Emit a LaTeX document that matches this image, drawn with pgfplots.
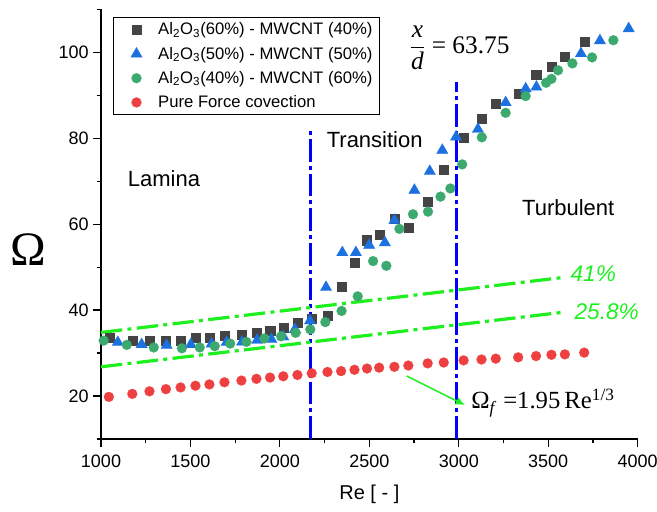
\documentclass[border=0pt]{standalone}
\usepackage{pgfplots}
\pgfplotsset{compat=1.18}
\usetikzlibrary{arrows.meta}
\usepackage{fontspec}
\setmainfont{Liberation Sans}
\newfontfamily\timesf{Liberation Serif}
\definecolor{sqgray}{RGB}{68,68,68}
\definecolor{triblue}{RGB}{28,113,225}
\definecolor{circgreen}{RGB}{60,170,110}
\definecolor{circred}{RGB}{238,64,64}
\definecolor{zoneblue}{RGB}{0,0,255}
\definecolor{lime}{RGB}{30,240,30}
\begin{document}
\begin{tikzpicture}
\useasboundingbox (0,0) rectangle (492.75pt,383.25pt);
\begin{axis}[
  scale only axis, width=402.5pt, height=322.3pt,
  at={(75.75pt,54pt)}, anchor=south west,
  xmin=1000, xmax=4000, ymin=10, ymax=110,
  axis lines=left, axis line style={-, line width=0.9pt, black},
  xtick={1000,1500,...,4000}, ytick={20,40,...,100},
  minor xtick={1250,1750,...,3750}, minor ytick={10,30,...,110},
  tick align=outside, major tick length=5.75pt, minor tick length=3.25pt,
  tick style={black, line width=0.9pt},
  ticklabel style={font=\fontsize{13.5}{15}\selectfont},
  xticklabel style={yshift=-3pt},
  /pgf/number format/assume math mode=true,
  /pgf/number format/1000 sep={},
  xlabel={Re [ - ]},
  xlabel style={at={(rel axis cs:0.5,-0.128)}, anchor=center, font=\fontsize{15}{17}\selectfont},
  ylabel={\timesf Ω},
  ylabel style={rotate=-90, at={(rel axis cs:-0.1355,0.44)}, anchor=center, font=\fontsize{36}{40}\selectfont},
  legend style={at={(rel axis cs:0.0224,0.982)}, anchor=north west, draw=black, line width=0.6pt,
    font=\fontsize{12.5}{14}\selectfont, inner xsep=3pt, inner ysep=2pt, row sep=3.6pt},
  legend cell align=left,
  legend image code/.code={\path (0pt,0pt) (28pt,0pt); \draw[#1] plot coordinates {(14pt,0pt)};},
  clip=false,
]
\addplot[sqgray, only marks, mark=square*, mark size=3.4pt, mark options={solid, fill=sqgray, draw=sqgray, line width=0.1pt}]
coordinates {(1050,33.6) (1175,33.0) (1271,32.9) (1363,33.0) (1445,33.0) (1528,33.6) (1606,33.6)
 (1690,34.0) (1785,34.4) (1869,34.7) (1945,35.2) (2019,36.0) (2098,37.0) (2178,38.0) (2266,38.8)
 (2346,45.5) (2417,51.1) (2487,56.3) (2555,57.5) (2640,61.4) (2718,59.1) (2826,65.3) (2916,72.6)
 (3027,80.2) (3127,84.5) (3207,88.0) (3332,90.4) (3432,94.9) (3518,96.6) (3593,99.1) (3701,102.4)};
\addlegendentry{Al\textsubscript{2}O\textsubscript{3}(60\%) - MWCNT (40\%)}
\addplot[triblue, only marks, mark=triangle*, mark size=5pt, mark options={solid, fill=triblue, draw=triblue, line width=0.1pt}]
coordinates {(1094,32.5) (1227,32.0) (1367,31.8) (1502,32.0) (1618,32.1) (1702,32.5) (1789,32.6)
 (1873,33.0) (1953,33.2) (2019,33.8) (2084,35.5) (2168,37.5) (2258,45.3) (2349,53.4) (2425,53.4)
 (2499,55.1) (2587,55.7) (2640,60.9) (2752,67.9) (2838,72.3) (2908,77.2) (2985,80.3) (3107,82.1)
 (3262,88.3) (3374,91.5) (3434,91.9) (3683,99.7) (3789,102.7) (3950,105.5)};
\addlegendentry{Al\textsubscript{2}O\textsubscript{3}(50\%) - MWCNT (50\%)}
\addplot[circgreen, only marks, mark=*, mark size=3.75pt, mark options={solid, fill=circgreen, draw=circgreen, line width=0.1pt}]
coordinates {(1015,32.9) (1144,31.9) (1295,31.3) (1452,31.1) (1552,31.3) (1636,31.6) (1722,32.2)
 (1813,32.6) (1913,33.4) (2007,33.9) (2088,34.7) (2170,35.5) (2254,37.2) (2345,39.8) (2435,43.2)
 (2521,51.4) (2595,50.3) (2668,58.9) (2744,62.3) (2828,62.9) (2898,66.4) (2953,68.3) (3019,73.9)
 (3129,80.2) (3262,85.9) (3374,89.8) (3488,92.9) (3518,93.8) (3555,95.8) (3635,97.4) (3745,98.8)
 (3864,102.8)};
\addlegendentry{Al\textsubscript{2}O\textsubscript{3}(40\%) - MWCNT (60\%)}
\addplot[circred, only marks, mark=*, mark size=3.75pt, mark options={solid, fill=circred, draw=circred, line width=0.1pt}]
coordinates {(1044,19.8) (1175,20.5) (1271,21.1) (1363,21.6) (1445,22.0) (1528,22.4) (1606,22.7)
 (1690,23.2) (1785,23.6) (1869,24.0) (1945,24.3) (2019,24.6) (2098,24.9) (2178,25.3) (2266,25.6)
 (2342,25.8) (2417,26.1) (2487,26.4) (2555,26.6) (2640,26.8) (2718,27.1) (2826,27.6) (2916,27.8)
 (3027,28.3) (3127,28.5) (3207,28.7) (3332,29.0) (3432,29.3) (3518,29.6) (3593,29.7) (3701,30.1)};
\addlegendentry{Pure Force covection}
% regime borders and enhancement lines
\addplot[forget plot, zoneblue, line width=2.6pt, dash pattern=on 17pt off 3pt on 3pt off 3pt]
  coordinates {(2172,10) (2172,82.3)};
\addplot[forget plot, zoneblue, line width=2.6pt, dash pattern=on 17pt off 3pt on 3pt off 3pt]
  coordinates {(2988,10) (2988,93.1)};
\addplot[forget plot, lime, line width=2.4pt, dash pattern=on 16pt off 4pt on 3pt off 4pt]
  coordinates {(1000,34.8) (3585,47.6)};
\addplot[forget plot, lime, line width=2.4pt, dash pattern=on 16pt off 4pt on 3pt off 4pt]
  coordinates {(1000,26.8) (3585,39.5)};
\node[font=\fontsize{16.5}{18}\selectfont] at (axis cs:1352,70.7) {Lamina};
\node[font=\fontsize{16.5}{18}\selectfont] at (axis cs:2530,79.65) {Transition};
\node[font=\fontsize{16.5}{18}\selectfont] at (axis cs:3612,63.95) {Turbulent};
\node[font=\fontsize{17}{19}\selectfont\itshape, text=lime] at (axis cs:3752,48.5) {41\%};
\node[font=\fontsize{17}{19}\selectfont\itshape, text=lime] at (axis cs:3827,39.6) {25.8\%};
\node[anchor=west, font=\timesf\fontsize{19}{21}\selectfont] at (axis cs:2699,101.0)
  {$\displaystyle\frac{\textit{x}}{\textit{d}}$ = 63.75};
\draw[lime, line width=1.1pt, -{Latex[length=7pt,width=6pt]}] (axis cs:2709,24.65) -- (axis cs:3035,17.9);
\node[anchor=base west, font=\timesf\fontsize{18.5}{20}\selectfont] at (axis cs:3044,17.0)
  {Ω\textsubscript{\textit{f}} =1.95\,Re\textsuperscript{1/3}};
\end{axis}
\end{tikzpicture}
\end{document}
